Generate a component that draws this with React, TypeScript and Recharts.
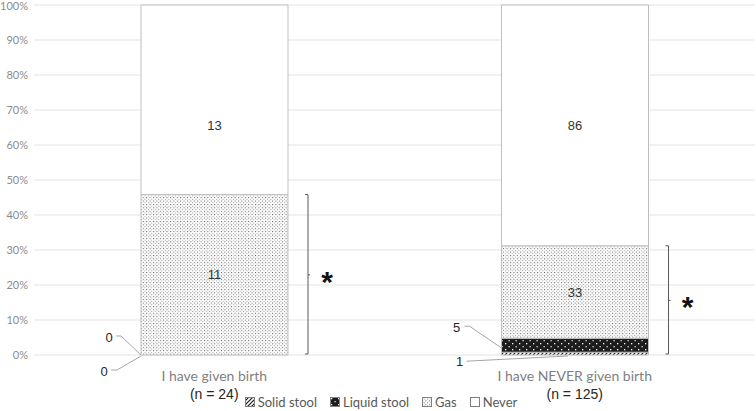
import React from 'react';
import { BarChart, Bar, XAxis, YAxis, CartesianGrid, Legend, LabelList } from 'recharts';

const categories = ['I have given birth', 'I have NEVER given birth'];
const sampleSizes = [24, 125];
const solidStool = [0, 1];
const liquidStool = [0, 5];
const gas = [11, 33];
const never = [13, 86];
const yTicks = [0, 0.1, 0.2, 0.3, 0.4, 0.5, 0.6, 0.7, 0.8, 0.9, 1];
const seriesNames = ['Solid stool', 'Liquid stool', 'Gas', 'Never'];

const data = categories.map((name, i) => ({
  name,
  solid: solidStool[i],
  liquid: liquidStool[i],
  gas: gas[i],
  never: never[i],
}));

const SANS = '"Liberation Sans", Arial, sans-serif';
const THIN = 'Lato, "Open Sans", sans-serif';
const BORDER = '#bfbfbf';

const fills: Record<string, string> = {
  'Solid stool': 'url(#patSolid)',
  'Liquid stool': 'url(#patLiquid)',
  Gas: 'url(#patGas)',
  Never: '#ffffff',
};

const Patterns = () => (
  <defs>
    <pattern id="patGas" width="3.4" height="3.4" patternUnits="userSpaceOnUse">
      <rect width="3.4" height="3.4" fill="#ffffff" />
      <rect x="0" y="0" width="1" height="1" fill="#555555" />
      <rect x="1.7" y="1.7" width="1" height="1" fill="#999999" />
    </pattern>
    <pattern id="patLiquid" width="7" height="6" patternUnits="userSpaceOnUse">
      <rect width="7" height="6" fill="#1c1c1c" />
      <rect x="1" y="1" width="1.3" height="1.3" fill="#ffffff" />
      <rect x="4.5" y="4" width="1.3" height="1.3" fill="#d8d8d8" />
    </pattern>
    <pattern id="patSolid" width="4" height="4" patternUnits="userSpaceOnUse">
      <rect width="4" height="4" fill="#ffffff" />
      <path d="M-1,1 l2,-2 M0,4 l4,-4 M3,5 l2,-2" stroke="#1c1c1c" strokeWidth="1.2" />
    </pattern>
  </defs>
);

const CategoryTick = (props: any) => {
  const { x, y, payload } = props;
  const i = payload.index ?? categories.indexOf(payload.value);
  return (
    <g>
      <text x={x} y={y + 18} textAnchor="middle" fontFamily={THIN} fontSize={14} fill="#7f7f7f">
        {payload.value}
      </text>
      <text x={x} y={y + 36} textAnchor="middle" fontFamily={SANS} fontSize={14} fill="#262626">
        (n = {sampleSizes[i]})
      </text>
    </g>
  );
};

// Excel nudged the first "Never" label down a bit
const neverLabelShift = [26, 0];

const NeverLabel = (props: any) => {
  const { x, y, width, height, index } = props;
  return (
    <text x={x + width / 2} y={y + height / 2 + neverLabelShift[index]} textAnchor="middle" dominantBaseline="central"
      fontFamily={SANS} fontSize={13} fill="#333333">
      {never[index]}
    </text>
  );
};

const leaderText = (tx: number, ty: number, v: number, d: string) => (
  <g>
    <path d={d} stroke="#a6a6a6" fill="none" strokeWidth={1} />
    <text x={tx} y={ty} textAnchor="middle" dominantBaseline="central" fontFamily={SANS} fontSize={13} fill="#262626">
      {v}
    </text>
  </g>
);

// gas count, significance bracket, and the leader labels for the small segments below it
const GasLabel = (props: any) => {
  const { x, y, width, height, index } = props;
  const pxPer = height / gas[index];
  const liqTop = y + height;
  const liqH = liquidStool[index] * pxPer;
  const solTop = liqTop + liqH;
  const solH = solidStool[index] * pxPer;
  const bottom = solTop + solH;
  const bx = x + width + 20;
  const mid = (y + bottom) / 2;
  const first = index === 0;
  return (
    <g>
      <text x={x + width / 2} y={y + height / 2} textAnchor="middle" dominantBaseline="central"
        fontFamily={SANS} fontSize={13} fill="#333333">
        {gas[index]}
      </text>
      <path d={`M${bx - 3},${y} H${bx} V${bottom - 1} H${bx - 3} M${bx},${mid} h2`} stroke="#595959" fill="none" strokeWidth={1} />
      <text x={bx + 19} y={mid + 17} textAnchor="middle" fontFamily={SANS} fontSize={30} fontWeight="bold" fill="#111111">*</text>
      {first
        ? leaderText(x - 32, liqTop - 18, liquidStool[index], `M${x - 25},${liqTop - 19} H${x - 20} L${x},${liqTop}`)
        : leaderText(x - 45, liqTop - 11, liquidStool[index], `M${x - 37},${liqTop - 12} H${x - 32} L${x},${liqTop + liqH * 0.7}`)}
      {first
        ? leaderText(x - 37, solTop + 16, solidStool[index], `M${x - 30},${solTop + 15} H${x - 24} L${x},${solTop + 1}`)
        : leaderText(x - 42, solTop + 9, solidStool[index], `M${x - 35},${solTop + 9} L${x + width / 2 - 7},${bottom + 1}`)}
    </g>
  );
};

const LegendContent = () => (
  <div style={{ display: 'flex', justifyContent: 'center', alignItems: 'center', height: 18, paddingLeft: 20,
    fontFamily: THIN, fontSize: 13, color: '#595959' }}>
    {seriesNames.map((n) => (
      <div key={n} style={{ display: 'flex', alignItems: 'center', marginRight: 13 }}>
        <svg width={10} height={10} style={{ marginRight: 3 }}>
          <rect x={0.5} y={0.5} width={9} height={9} fill={fills[n]} stroke="#7f7f7f" strokeWidth={1} />
        </svg>
        <span>{n}</span>
      </div>
    ))}
  </div>
);

export default function App() {
  return (
    <div style={{ position: 'fixed', left: 0, top: 0, background: '#ffffff' }}>
      <BarChart width={756} height={411} data={data} stackOffset="expand" barCategoryGap={107}
        margin={{ top: 5, right: 1, left: 0, bottom: 0 }}>
        <Patterns />
        <CartesianGrid horizontal vertical={false} stroke="#e3e3e3" />
        <XAxis dataKey="name" axisLine={false} tickLine={false} height={38} tick={<CategoryTick />} interval={0} />
        <YAxis domain={[0, 1]} ticks={yTicks} width={34} axisLine={false} tickLine={false} tickSize={0} tickMargin={6}
          tickFormatter={(v: number) => `${Math.round(v * 100)}%`}
          tick={{ fontFamily: THIN, fontSize: 11, fill: '#8c8c8c' }} />
        <Legend verticalAlign="bottom" content={<LegendContent />} />
        <Bar dataKey="solid" name="Solid stool" stackId="a" fill={fills['Solid stool']} stroke={BORDER} isAnimationActive={false} />
        <Bar dataKey="liquid" name="Liquid stool" stackId="a" fill={fills['Liquid stool']} stroke={BORDER} isAnimationActive={false} />
        <Bar dataKey="gas" name="Gas" stackId="a" fill={fills.Gas} stroke={BORDER} isAnimationActive={false}>
          <LabelList dataKey="gas" content={<GasLabel />} />
        </Bar>
        <Bar dataKey="never" name="Never" stackId="a" fill={fills.Never} stroke={BORDER} isAnimationActive={false}>
          <LabelList dataKey="never" content={<NeverLabel />} />
        </Bar>
      </BarChart>
    </div>
  );
}
